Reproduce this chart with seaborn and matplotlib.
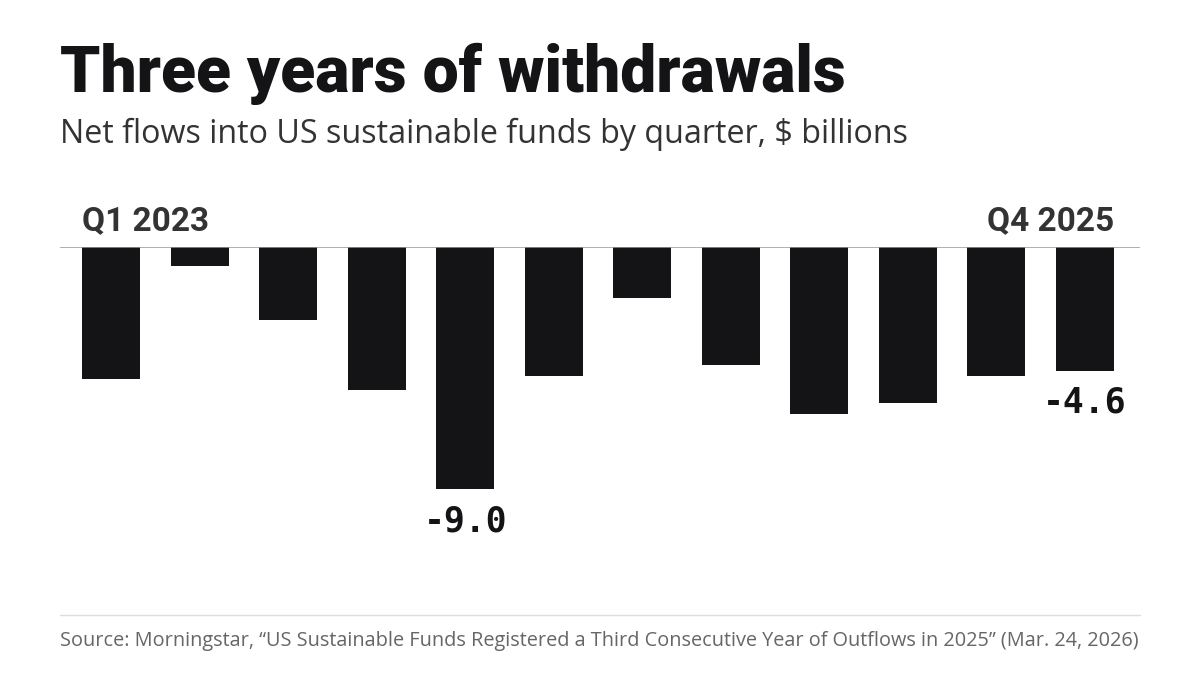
import numpy as np
import pandas as pd
import matplotlib
matplotlib.use("Agg")
import matplotlib.pyplot as plt
from matplotlib.lines import Line2D
import seaborn as sns

# Daten
quarters = ["Q1 2023", "Q2 2023", "Q3 2023", "Q4 2023",
            "Q1 2024", "Q2 2024", "Q3 2024", "Q4 2024",
            "Q1 2025", "Q2 2025", "Q3 2025", "Q4 2025"]
flows = [-4.9, -0.7, -2.7, -5.3, -9.0, -4.8, -1.9, -4.4, -6.2, -5.8, -4.8, -4.6]
labelled = {"Q1 2024": "-9.0", "Q4 2025": "-4.6"}

title = "Three years of withdrawals"
subtitle = "Net flows into US sustainable funds by quarter, $ billions"
source = ("Source: Morningstar, \u201cUS Sustainable Funds Registered a Third Consecutive "
          "Year of Outflows in 2025\u201d (Mar. 24, 2026)")

df = pd.DataFrame({"quarter": quarters, "flow": flows})

sns.set_theme(style="white")
plt.rcParams["font.family"] = ["Roboto", "DejaVu Sans"]

W, H = 1200, 675
fig = plt.figure(figsize=(12, 6.75), dpi=100)

# Achse: Nulllinie bei y=247px, 26.92 px pro Einheit
pitch = 88.5
scale = 26.92
ax_top, ax_bot = 247, 600
ax = fig.add_axes([60 / W, 1 - ax_bot / H, 1080 / W, (ax_bot - ax_top) / H])

sns.barplot(data=df, x="quarter", y="flow", color="#141416", saturation=1,
            width=0.655, ax=ax, edgecolor="none")

ax.set_xlim(-(111 - 60) / pitch, 11 + (1140 - 1085) / pitch)
ax.set_ylim(-(ax_bot - ax_top) / scale, 0)
ax.axhline(0, color="#9a9a9a", lw=1.1, zorder=3)
for s in ax.spines.values():
    s.set_visible(False)
ax.set_xticks([])
ax.set_yticks([])
ax.set_xlabel("")
ax.set_ylabel("")

# Start/Ende Beschriftung
half = 0.655 / 2
ax.text(0 - half, 0.62, quarters[0], ha="left", va="baseline", fontsize=24,
        fontweight="bold", color="#333333", clip_on=False)
ax.text(11 + half, 0.62, quarters[-1], ha="right", va="baseline", fontsize=24,
        fontweight="bold", color="#333333", clip_on=False)

# Wertbeschriftungen
for i, q in enumerate(quarters):
    if q in labelled:
        ax.text(i, flows[i] - 0.55, labelled[q], ha="center", va="top",
                fontsize=25, fontweight="bold", family="DejaVu Sans Mono",
                color="#141416", clip_on=False)

# Titel
fig.text(60 / W, 1 - 92 / H, title, ha="left", va="baseline", fontsize=46.2,
         fontweight="black", color="#141416")
fig.text(60 / W, 1 - 143 / H, subtitle, ha="left", va="baseline", fontsize=23.2,
         family=["Open Sans", "DejaVu Sans"], color="#333333")

# Trennlinie + Quelle
fig.add_artist(Line2D([60 / W, 1140 / W], [1 - 615 / H, 1 - 615 / H],
                      color="#dddddd", lw=1))
fig.text(60 / W, 1 - 646 / H, source, ha="left", va="baseline", fontsize=14.3,
         family=["Open Sans", "DejaVu Sans"], color="#666666")

fig.savefig("out.png", dpi=100)
